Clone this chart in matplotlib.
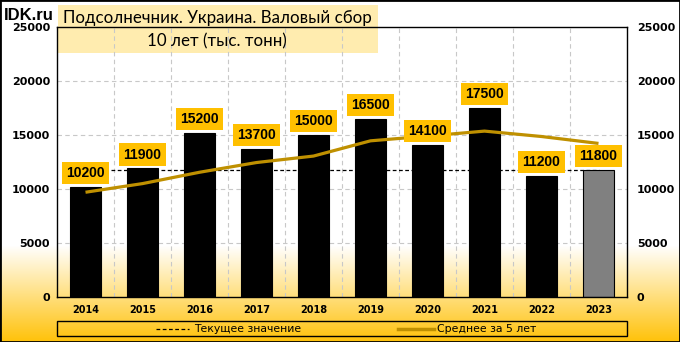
import matplotlib
matplotlib.use('Agg')
import matplotlib.pyplot as plt
import numpy as np
from matplotlib.patches import Rectangle
from matplotlib.lines import Line2D

years = ['2014', '2015', '2016', '2017', '2018', '2019', '2020', '2021', '2022', '2023']
harvest = [10200, 11900, 15200, 13700, 15000, 16500, 14100, 17500, 11200, 11800]
avg5 = [9700, 10500, 11550, 12450, 13050, 14460, 14900, 15360, 14860, 14220]
current_value = 11800
yticks = [0, 5000, 10000, 15000, 20000, 25000]
title1 = 'Подсолнечник. Украина. Валовый сбор'
title2 = '10 лет (тыс. тонн)'
legend_labels = ['Текущее значение', 'Среднее за 5 лет']

W, H = 680, 342
fig = plt.figure(figsize=(W / 100, H / 100), dpi=100)

def fx(px):
    return px / W

def fy(py):  # py measured from top
    return 1 - py / H

# background gradient
bg = fig.add_axes([0, 0, 1, 1], zorder=-10)
bg.axis('off')
grad = np.ones((H, 1, 3))
top_c = np.array([1.0, 1.0, 1.0])
bot_c = np.array([255, 194, 10]) / 255
start = 245
for y in range(H):
    t = max(0.0, (y - start) / (H - 1 - start))
    grad[y, 0] = top_c * (1 - t) + bot_c * t
bg.imshow(grad, aspect='auto', extent=[0, 1, 0, 1], origin='upper')
bg.set_xlim(0, 1)
bg.set_ylim(0, 1)
# title box
bg.add_patch(Rectangle((fx(58), fy(53)), fx(320), 48 / H, facecolor='#FFEAA6',
                       alpha=0.9, edgecolor='none'))

ax = fig.add_axes([fx(57), fy(297), fx(570), 270 / H])
ax.set_facecolor('none')
x = np.arange(len(years))
ax.set_xlim(-0.5, len(years) - 0.5)
ax.set_ylim(0, 25000)

for yv in yticks[1:-1]:
    ax.axhline(yv, color='#C8C8C8', lw=0.8, dashes=(4, 3), zorder=1)
for xv in x[:-1] + 0.5:
    ax.axvline(xv, color='#C8C8C8', lw=0.8, dashes=(4, 3), zorder=1)

ax.plot(x, [current_value] * len(x), color='black', lw=0.9, dashes=(3, 2), zorder=2)
colors = ['black'] * (len(years) - 1) + ['#808080']
ax.bar(x, harvest, width=0.53, color=colors, edgecolor='black', lw=0.8, zorder=3)
ax.plot(x, avg5, color='#BF9000', lw=2.3, zorder=4, solid_capstyle='butt')

for xi, v in zip(x, harvest):
    ax.annotate(f'{v}', (xi, v), xytext=(0, 10), textcoords='offset points',
                ha='center', va='center', fontsize=10, fontweight='bold',
                family='Liberation Sans', zorder=6,
                bbox=dict(boxstyle='square,pad=0.3', fc='#FFC000', ec='none'))

for s in ax.spines.values():
    s.set_color('black')
    s.set_linewidth(1)
    s.set_zorder(5)

ax.set_yticks(yticks)
ax.set_yticklabels([str(t) for t in yticks], fontsize=8, fontweight='bold', family='DejaVu Sans')
ax.set_xticks(x)
ax.set_xticklabels(years, fontsize=7, fontweight='bold', family='DejaVu Sans')
ax.tick_params(length=0, pad=6)
ax.tick_params(axis='y', pad=5)

ax2 = ax.twinx()
ax2.set_ylim(0, 25000)
ax2.set_yticks(yticks)
ax2.set_yticklabels([str(t) for t in yticks], fontsize=8, fontweight='bold', family='DejaVu Sans')
ax2.tick_params(length=0, pad=7)
for s in ax2.spines.values():
    s.set_visible(False)

# titles
fig.text(fx(217), fy(18), title1, ha='center', va='center', fontsize=12.2, family='Lato')
fig.text(fx(217), fy(41), title2, ha='center', va='center', fontsize=12.2, family='Lato')
fig.text(fx(4), fy(15), 'IDK.ru', ha='left', va='center', fontsize=12, fontweight='bold',
         family='Liberation Sans')

# legend
fig.patches.append(Rectangle((fx(57), fy(336)), fx(570), 15 / H, transform=fig.transFigure,
                             fill=False, edgecolor='black', lw=1))
ly = fy(328.5)
fig.lines.append(Line2D([fx(156), fx(189)], [ly, ly], transform=fig.transFigure,
                        color='black', lw=0.9, dashes=(3, 2)))
fig.text(fx(194), ly, legend_labels[0], ha='left', va='center', fontsize=7.8, family='DejaVu Sans')
fig.lines.append(Line2D([fx(398), fx(434)], [ly, ly], transform=fig.transFigure,
                        color='#BF9000', lw=2.5))
fig.text(fx(437), ly, legend_labels[1], ha='left', va='center', fontsize=7.8, family='DejaVu Sans')

# figure border
fig.patches.append(Rectangle((0, 0), 1, 1, transform=fig.transFigure, fill=False,
                             edgecolor='black', lw=2))

fig.savefig('out.png', dpi=100)
